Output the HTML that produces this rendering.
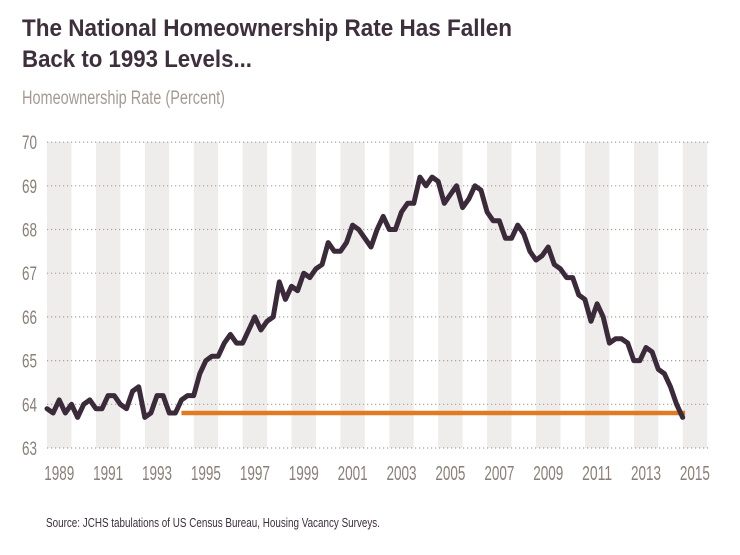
<!DOCTYPE html>
<html><head><meta charset="utf-8"><style>
html,body{margin:0;padding:0;background:#fff;}
svg{display:block;font-family:"Liberation Sans Narrow","Liberation Sans",sans-serif;}
</style></head><body>
<svg id="chart" width="740" height="555" viewBox="0 0 740 555">
<text x="22" y="36" font-size="24" font-weight="bold" fill="#3e2f3c" textLength="490" lengthAdjust="spacingAndGlyphs">The National Homeownership Rate Has Fallen</text>
<text x="22" y="67" font-size="24" font-weight="bold" fill="#3e2f3c" textLength="230" lengthAdjust="spacingAndGlyphs">Back to 1993 Levels...</text>
<text x="22" y="104" font-size="19" fill="#a49a92" textLength="203" lengthAdjust="spacingAndGlyphs">Homeownership Rate (Percent)</text>
<g id="stripes"></g><g id="grid"></g><g id="ylabels"></g><g id="xlabels"></g><g id="series"></g>
<text x="46" y="527" font-size="12.5" fill="#3e2f3c" textLength="334" lengthAdjust="spacingAndGlyphs">Source: JCHS tabulations of US Census Bureau, Housing Vacancy Surveys.</text>
</svg>
<script>
const startYear = 1989;
const rates = [
63.9,63.8,64.1,63.8, 64.0,63.7,64.0,64.1, 63.9,63.9,64.2,64.2, 64.0,63.9,64.3,64.4,
63.7,63.8,64.2,64.2, 63.8,63.8,64.1,64.2, 64.2,64.7,65.0,65.1, 65.1,65.4,65.6,65.4,
65.4,65.7,66.0,65.7, 65.9,66.0,66.8,66.4, 66.7,66.6,67.0,66.9, 67.1,67.2,67.7,67.5,
67.5,67.7,68.1,68.0, 67.8,67.6,68.0,68.3, 68.0,68.0,68.4,68.6, 68.6,69.2,69.0,69.2,
69.1,68.6,68.8,69.0, 68.5,68.7,69.0,68.9, 68.4,68.2,68.2,67.8, 67.8,68.1,67.9,67.5,
67.3,67.4,67.6,67.2, 67.1,66.9,66.9,66.5, 66.4,65.9,66.3,66.0, 65.4,65.5,65.5,65.4,
65.0,65.0,65.3,65.2, 64.8,64.7,64.4,64.0, 63.7];
const refLevel = 63.8;
const refStart = 1994.5;
const refEnd = 2015.1;
const yTicks = [63,64,65,66,67,68,69,70];
const xTickYears = [1989,1991,1993,1995,1997,1999,2001,2003,2005,2007,2009,2011,2013,2015];

const NS="http://www.w3.org/2000/svg";
const X0=47, YW=24.45, Y0=448, YU=43.7;
const xs=t=>X0+(t-1989)*YW;
const ys=v=>Y0-(v-63)*YU;
function mk(tag,attrs,parent){const e=document.createElementNS(NS,tag);for(const k in attrs)e.setAttribute(k,attrs[k]);document.getElementById(parent).appendChild(e);return e;}

for(let y=1989;y<=2015;y+=2){
  const r=mk('rect',{x:xs(y),y:ys(70),width:YW,height:ys(63)-ys(70),fill:'#efedeb'},'stripes');
  
  
}
yTicks.forEach(v=>{
  const l=mk('line',{x1:47,x2:710,y1:ys(v),y2:ys(v),stroke:'#a8a09a','stroke-width':1.2,'stroke-dasharray':'1.2 2.8'},'grid');
  
  
  const t=mk('text',{x:22,y:ys(v)+7,'font-size':19,fill:'#8a8078',textLength:15,lengthAdjust:'spacingAndGlyphs'},'ylabels');
  t.textContent=v;
  
  
});
xTickYears.forEach(y=>{
  const t=mk('text',{x:xs(y)+YW/2-15,y:480,'font-size':20,fill:'#8a8078',textLength:30,lengthAdjust:'spacingAndGlyphs'},'xlabels');
  t.textContent=y;
  
  
});
const ref=mk('line',{x1:xs(refStart),x2:xs(refEnd),y1:ys(refLevel),y2:ys(refLevel),stroke:'#e07b22','stroke-width':4.5},'series');


const pts=rates.map((v,i)=>xs(startYear+i/4).toFixed(1)+','+ys(v).toFixed(1)).join(' ');
const pl=mk('polyline',{points:pts,fill:'none',stroke:'#3b2b3a','stroke-width':5,'stroke-linejoin':'round','stroke-linecap':'round'},'series');


</script>
</body></html>
